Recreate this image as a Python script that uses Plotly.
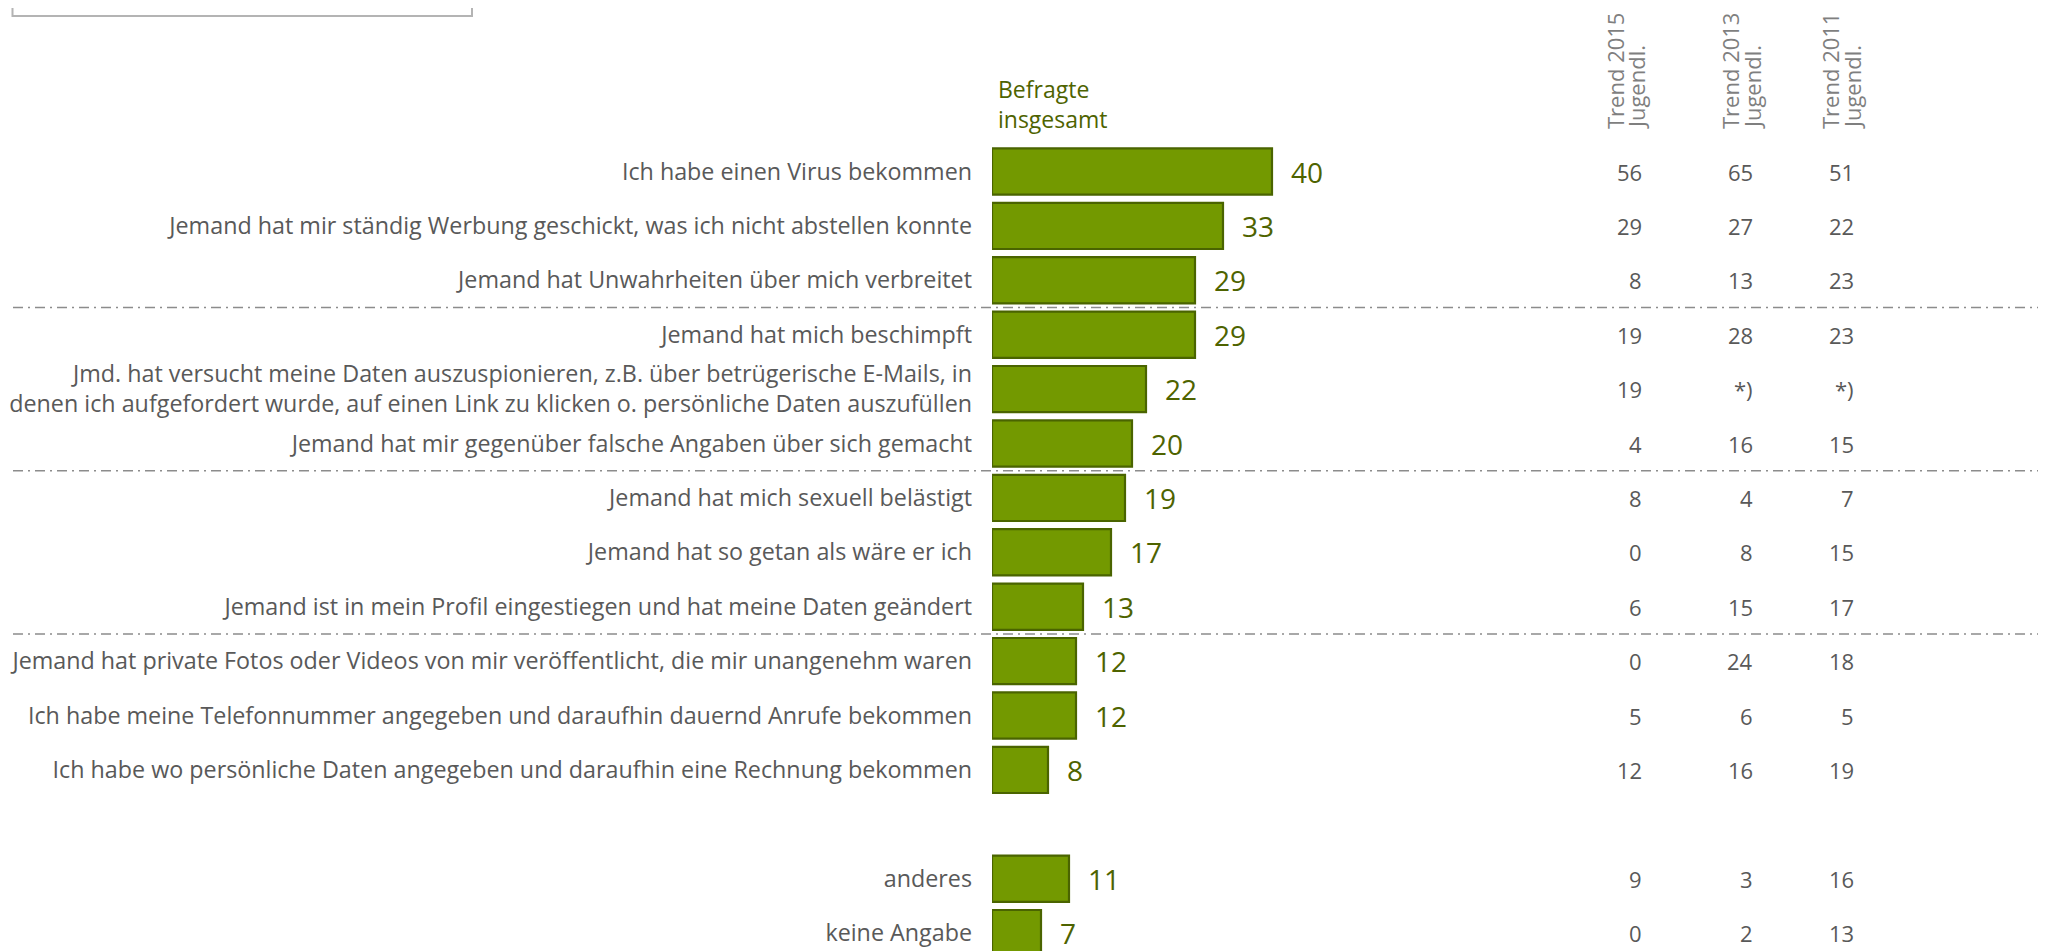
import plotly.graph_objects as go

# Items (top to bottom); None marks the empty spacer row
labels = [
    "Ich habe einen Virus bekommen",
    "Jemand hat mir ständig Werbung geschickt, was ich nicht abstellen konnte",
    "Jemand hat Unwahrheiten über mich verbreitet",
    "Jemand hat mich beschimpft",
    "Jmd. hat versucht meine Daten auszuspionieren, z.B. über betrügerische E-Mails, in<br>"
    "denen ich aufgefordert wurde, auf einen Link zu klicken o. persönliche Daten auszufüllen",
    "Jemand hat mir gegenüber falsche Angaben über sich gemacht",
    "Jemand hat mich sexuell belästigt",
    "Jemand hat so getan als wäre er ich",
    "Jemand ist in mein Profil eingestiegen und hat meine Daten geändert",
    "Jemand hat private Fotos oder Videos von mir veröffentlicht, die mir unangenehm waren",
    "Ich habe meine Telefonnummer angegeben und daraufhin dauernd Anrufe bekommen",
    "Ich habe wo persönliche Daten angegeben und daraufhin eine Rechnung bekommen",
    None,
    "anderes",
    "keine Angabe",
]
total = [40, 33, 29, 29, 22, 20, 19, 17, 13, 12, 12, 8, None, 11, 7]
trend_2015 = ["56", "29", "8", "19", "19", "4", "8", "0", "6", "0", "5", "12", None, "9", "0"]
trend_2013 = ["65", "27", "13", "28", "*)", "16", "4", "8", "15", "24", "6", "16", None, "3", "2"]
trend_2011 = ["51", "22", "23", "23", "*)", "15", "7", "15", "17", "18", "5", "19", None, "16", "13"]
trend_headers = [("Trend 2015", "Jugendl."), ("Trend 2013", "Jugendl."), ("Trend 2011", "Jugendl.")]
group_breaks = [2.5, 5.5, 8.5]

rows = [i for i, l in enumerate(labels) if l is not None]
W, H = 2046, 951
OFF = 8  # page margin around the plot div
FONT = "Open Sans"
GREEN = "#739900"
EDGE = "#4a6400"
OLIVE = "#4e6300"
GREY = "#595959"


def px(x):
    return (x - OFF) / W


def py(y):
    return 1 - (y - OFF) / H


# row geometry (screen pixels)
row0, pitch = 171.5 - OFF, 54.4
y_top = -row0 / pitch
y_bot = (H - row0) / pitch
bar_left = 992

fig = go.Figure()
fig.add_trace(go.Bar(
    x=[total[i] for i in rows],
    y=rows,
    orientation="h",
    width=0.85,
    marker=dict(color=GREEN, line=dict(color=EDGE, width=2.2)),
    hoverinfo="x",
))

annotations = []
for i in rows:
    annotations.append(dict(
        x=total[i], y=i, xref="x", yref="y", text=str(total[i]),
        xanchor="left", yanchor="middle", xshift=17, showarrow=False,
        font=dict(family=FONT, size=28, color=OLIVE),
    ))

col_right = [1644, 1755, 1856]
for col, vals in zip(col_right, [trend_2015, trend_2013, trend_2011]):
    for i in rows:
        annotations.append(dict(
            x=px(col), y=i, xref="paper", yref="y", text=vals[i],
            xanchor="right", yanchor="middle", showarrow=False,
            font=dict(family=FONT, size=22, color=GREY),
        ))

head_x = [(1615, 1636), (1730, 1752), (1830, 1852)]
for (l1, l2), (x1, x2) in zip(trend_headers, head_x):
    for txt, xx in ((l1, x1), (l2, x2)):
        annotations.append(dict(
            x=px(xx), y=py(131), xref="paper", yref="paper", text=txt,
            textangle=-90, xanchor="center", yanchor="bottom", showarrow=False,
            font=dict(family=FONT, size=22, color="#7f7f7f"),
        ))

annotations.append(dict(
    x=px(996), y=py(137), xref="paper", yref="paper",
    text="Befragte<br>insgesamt", align="left",
    xanchor="left", yanchor="bottom", showarrow=False,
    font=dict(family=FONT, size=23, color=OLIVE),
))

shapes = []
for b in group_breaks:
    shapes.append(dict(
        type="line", xref="paper", yref="y", x0=px(13), x1=1, y0=b, y1=b,
        line=dict(color="#8c8c8c", width=1.5, dash="10px,5px,2px,5px"),
        layer="below",
    ))
shapes.append(dict(
    type="rect", xref="paper", yref="paper", x0=px(12.5), x1=px(472),
    y0=py(16), y1=1.05, line=dict(color="#b4b4b4", width=2),
))

fig.update_layout(
    width=W, height=H,
    margin=dict(l=0, r=0, t=0, b=0, autoexpand=False),
    paper_bgcolor="white", plot_bgcolor="white",
    showlegend=False,
    annotations=annotations,
    shapes=shapes,
    xaxis=dict(domain=[px(bar_left), 1], range=[0, (W - bar_left + OFF) / 7],
               visible=False, fixedrange=True, automargin=False),
    yaxis=dict(range=[y_bot, y_top], tickvals=rows,
               ticktext=[labels[i] for i in rows], automargin=False,
               ticks="", ticklabelstandoff=19, showgrid=False, zeroline=False,
               showline=False, tickfont=dict(family=FONT, size=23.3, color=GREY),
               fixedrange=True),
)

fig.write_html("out.html")
